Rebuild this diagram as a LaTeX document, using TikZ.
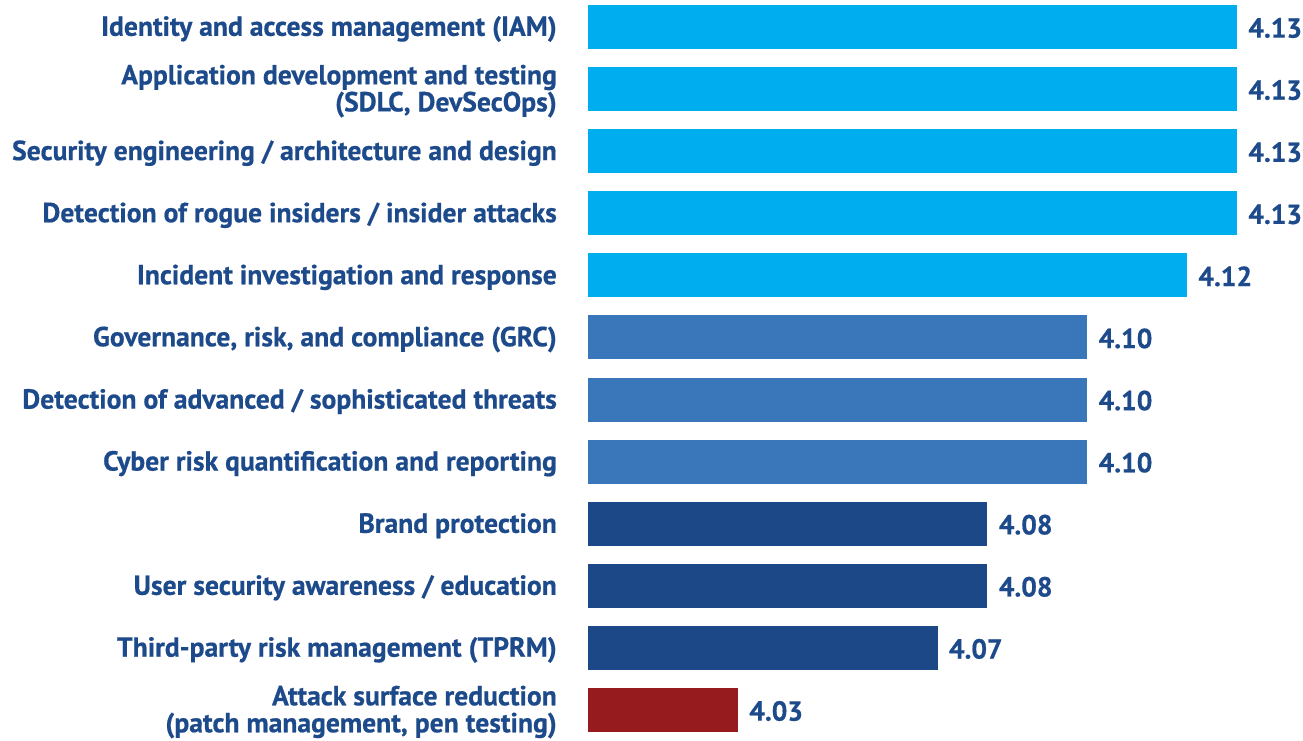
\documentclass[tikz,border=0pt]{standalone}
\usepackage{fontspec}
\setmainfont{PT Sans}[BoldFeatures={FakeBold=0.6}]
\usepackage{tikz}

\definecolor{txtblue}{HTML}{1D4A8A}
\definecolor{barcyan}{HTML}{00AEEF}
\definecolor{barmid}{HTML}{3A76BA}
\definecolor{bardark}{HTML}{1C4888}
\definecolor{barred}{HTML}{951B1E}

\tikzset{
  bar/.style={rectangle,inner sep=0pt,minimum height=44pt,anchor=west},
  lab/.style={anchor=east,align=right,inner sep=0pt,text=txtblue,
    font=\fontsize{27.6}{27}\selectfont\bfseries},
  val/.style={anchor=west,inner sep=0pt,text=txtblue,
    font=\fontsize{27.6}{27}\selectfont\bfseries}
}

\begin{document}
\begin{tikzpicture}[x=1pt,y=-1pt]
  \useasboundingbox (0,0) rectangle (1303,740);
  \foreach \v/\c/\t [count=\i] in {
      4.13/barcyan/{Identity and access management (IAM)},
      4.13/barcyan/{Application development and testing\\(SDLC, DevSecOps)},
      4.13/barcyan/{Security engineering / architecture and design},
      4.13/barcyan/{Detection of rogue insiders / insider attacks},
      4.12/barcyan/{Incident investigation and response},
      4.10/barmid/{Governance, risk, and compliance (GRC)},
      4.10/barmid/{Detection of advanced / sophisticated threats},
      4.10/barmid/{Cyber risk quantification and reporting},
      4.08/bardark/{Brand protection},
      4.08/bardark/{User security awareness / education},
      4.07/bardark/{Third-party risk management (TPRM)},
      4.03/barred/{Attack surface reduction\\(patch management, pen testing)}}
  {
    \node[bar,fill=\c,minimum width={(\v-4)*4990}] (bar\i) at (588,{27+62.09*(\i-1)}) {};
    \node[lab] (lab\i) at ([xshift=-31pt,yshift=-2pt]bar\i.west) {\t};
    \node[val] (val\i) at ([xshift=11pt,yshift=-1pt]bar\i.east) {\v};
  }
\end{tikzpicture}
\end{document}
